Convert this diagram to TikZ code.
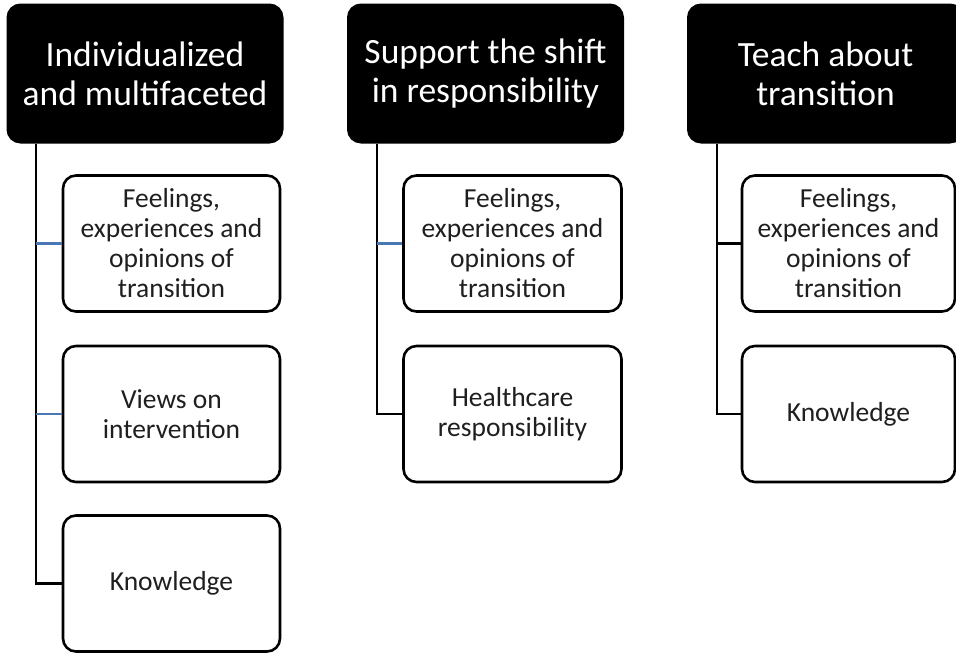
\documentclass[tikz,border=0pt]{standalone}
\usepackage{fontspec}
\setmainfont{Carlito}
\begin{document}
\begin{tikzpicture}[x=1pt,y=-1pt,
  theme/.style={draw=black,fill=black,text=white,line width=2pt,rounded corners=13pt,
    minimum width=275pt,minimum height=138pt,inner sep=0pt,align=center,
    font=\fontsize{35.5}{39}\selectfont},
  subtheme/.style={draw=black,fill=white,text=black!88,line width=2.6pt,rounded corners=13pt,
    minimum height=136pt,inner sep=0pt,align=center,
    font=\fontsize{27.5}{30}\selectfont},
  trunk/.style={draw=black,line width=2.6pt},
  twig/.style={draw=black,line width=2.6pt},
  bluetwig/.style={draw=linkblue,line width=2.4pt}]
\definecolor{linkblue}{RGB}{74,120,180}
\useasboundingbox (0,0) rectangle (956,653);

% main themes
\node[theme] (h1) at (145,73.5) {Individualized\\and multifaceted};
\node[theme] (h2) at (485.5,73.5) {Support the shift\\in responsibility};
\node[theme] (h3) at (825.5,73.5) {Teach about\\transition};

% subthemes, first column
\node[subtheme,minimum width=217pt] (a1) at (171.5,243.5) {Feelings,\\experiences and\\opinions of\\transition};
\node[subtheme,minimum width=217pt] (b1) at (171.5,414) {Views on\\intervention};
\node[subtheme,minimum width=217pt] (c1) at (171.5,583.5) {Knowledge};

% subthemes, second column
\node[subtheme,minimum width=218pt] (a2) at (512.5,243.5) {Feelings,\\experiences and\\opinions of\\transition};
\node[subtheme,minimum width=218pt] (b2) at (512.5,414) {Healthcare\\responsibility};

% subthemes, third column
\node[subtheme,minimum width=213pt] (a3) at (848.5,243.5) {Feelings,\\experiences and\\opinions of\\transition};
\node[subtheme,minimum width=213pt] (b3) at (848.5,414) {Knowledge};

% trunk positions
\coordinate (t1) at (36,0);
\coordinate (t2) at (377,0);
\coordinate (t3) at (717,0);

% trunks down to the last subtheme of each column
\draw[trunk] (t1 |- h1.south) |- (c1.west);
\draw[trunk] (t2 |- h2.south) |- (b2.west);
\draw[trunk] (t3 |- h3.south) |- (b3.west);

% side branches
\draw[bluetwig] (t1 |- a1.west) -- (a1.west);
\draw[bluetwig] (t1 |- b1.west) -- (b1.west);
\draw[bluetwig] (t2 |- a2.west) -- (a2.west);
\draw[twig] (t3 |- a3.west) -- (a3.west);
\end{tikzpicture}
\end{document}
